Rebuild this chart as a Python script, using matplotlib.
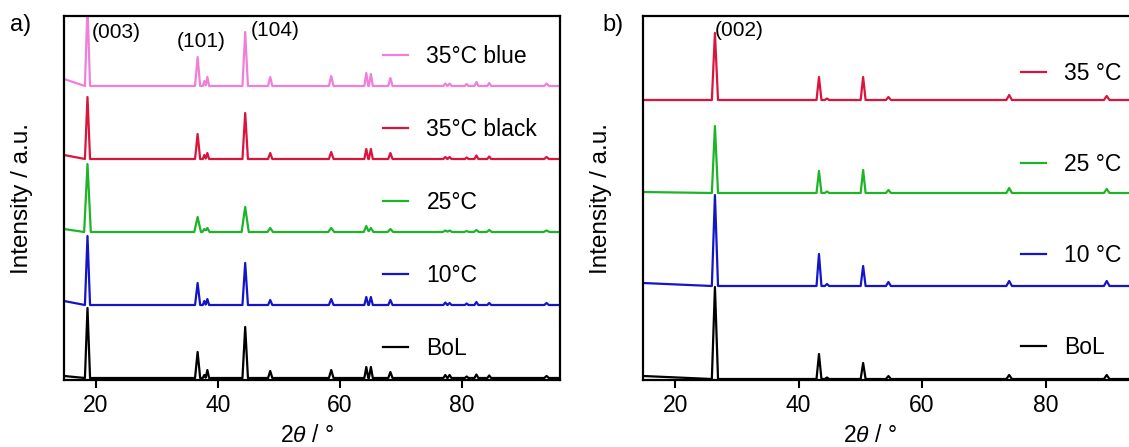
import numpy as np
import matplotlib
matplotlib.use("Agg")
import matplotlib.pyplot as plt

plt.rcParams['font.family'] = ['Liberation Sans', 'DejaVu Sans']
plt.rcParams['mathtext.fontset'] = 'custom'
plt.rcParams['mathtext.rm'] = 'Liberation Sans'
plt.rcParams['mathtext.it'] = 'Liberation Sans:italic'

# ---------------- Panel a (cathode) ----------------
peak_pos_a = [18.65, 36.7, 37.8, 38.3, 44.5, 48.6, 58.6, 64.35, 65.1, 68.3,
              77.3, 78.0, 80.8, 82.4, 84.5, 93.9]
peak_hw_a = [0.42, 0.42, 0.25, 0.28, 0.45, 0.35, 0.38, 0.32, 0.32, 0.35,
             0.32, 0.32, 0.3, 0.32, 0.32, 0.38]
series_a = ["BoL", "10°C", "25°C", "35°C black", "35°C blue"]
h_bol_a = [70, 26, 3, 8, 51, 7, 8, 11, 11, 6, 3, 3, 1.5, 3.5, 2.5, 2]
h_10_a = [69, 22, 4, 6, 42, 5, 6, 8, 8, 5, 2.5, 2, 1.5, 3, 2, 2]
h_25_a = [68, 15, 3, 4, 25, 4, 4, 6, 4, 3, 1.5, 1.5, 1, 2, 2, 1.5]
h_35k_a = [62, 25, 4, 6, 46, 6, 7, 10, 10, 6, 2, 2, 1.5, 3.5, 2.5, 2]
h_35b_a = [80, 29, 5, 9, 54, 9, 10, 13, 12, 8, 2.5, 2.5, 2, 4, 3, 2.5]
bg_a = [2, 4, 3, 4, 7]
heights_a = [h_bol_a, h_10_a, h_25_a, h_35k_a, h_35b_a]

# ---------------- Panel b (anode) ----------------
peak_pos_b = [26.45, 43.3, 44.6, 50.45, 54.55, 74.1, 89.9]
peak_hw_b = [0.5, 0.4, 0.35, 0.4, 0.4, 0.45, 0.45]
series_b = ["BoL", "10 °C", "25 °C", "35 °C"]
h_bol_b = [92, 25, 1.5, 16, 3, 4, 4]
h_10_b = [91, 32, 2, 20, 4, 5, 5]
h_25_b = [67, 22, 1.5, 23, 3, 5, 4]
h_35_b = [67, 23, 1.5, 23, 3, 5, 4]
bg_b = [3, 3, 1, 0]
heights_b = [h_bol_b, h_10_b, h_25_b, h_35_b]

X_MIN, X_MAX = 14.8, 96.1
colors_a = ['#000000', '#1414C8', '#1EB428', '#DC143C', '#F07FD9']
colors_b = ['#000000', '#1414C8', '#1EB428', '#DC143C']
broaden_a = [1.0, 1.0, 1.3, 1.0, 1.0]
offset_a = 73
offset_b = 93


def build_trace(pos, hw, hts, bg0, scale):
    pos = np.asarray(pos, float)
    hw = np.asarray(hw, float) * scale
    hts = np.asarray(hts, float)
    xs = np.unique(np.concatenate([[X_MIN, X_MAX], pos - hw, pos, pos + hw]))
    ys = np.zeros_like(xs)
    for p, w, h in zip(pos, hw, hts):
        ys += h * np.clip(1 - np.abs(xs - p) / w, 0, None)
    first_foot = pos[0] - hw[0]
    ys += bg0 * np.clip(1 - (xs - X_MIN) / (first_foot - X_MIN), 0, None)
    return xs, ys


W, H = 1129, 447
fig = plt.figure(figsize=(W / 100, H / 100), dpi=100)
ax_a = fig.add_axes([64 / W, (H - 380) / H, 496 / W, 364 / H])
ax_b = fig.add_axes([643 / W, (H - 380) / H, 502 / W, 364 / H])

FS = 16.5

for ax in (ax_a, ax_b):
    ax.set_xlim(X_MIN, X_MAX)
    ax.set_xticks([20, 40, 60, 80])
    ax.tick_params(axis='x', direction='out', length=6, width=1.5,
                   labelsize=16.5, pad=4)
    ax.set_yticks([])
    for s in ax.spines.values():
        s.set_linewidth(1.6)
    ax.set_xlabel(r"$\mathit{2\theta}$ / °", fontsize=FS)
    ax.set_ylabel("Intensity / a.u.", fontsize=17.5)
    ax.yaxis.set_label_coords(-31 / 496, 0.5)

ax_a.xaxis.set_label_coords(0.49, -0.122)
ax_b.xaxis.set_label_coords(0.452, -0.122)

handles_a = []
for i, (name, hts) in enumerate(zip(series_a, heights_a)):
    xs, ys = build_trace(peak_pos_a, peak_hw_a, hts, bg_a[i], broaden_a[i])
    ln, = ax_a.plot(xs, ys + i * offset_a, color=colors_a[i], lw=1.6,
                    label=name)
    handles_a.append(ln)
ax_a.set_ylim(-2, 362)

handles_b = []
for i, (name, hts) in enumerate(zip(series_b, heights_b)):
    xs, ys = build_trace(peak_pos_b, peak_hw_b, hts, bg_b[i], 1.0)
    ln, = ax_b.plot(xs, ys + i * offset_b, color=colors_b[i], lw=1.6,
                    label=name)
    handles_b.append(ln)
ax_b.set_ylim(-1, 363)

leg_a = ax_a.legend(handles=handles_a[::-1], loc='upper left',
                    bbox_to_anchor=(0.643, 0.921), borderaxespad=0,
                    borderpad=0, frameon=False, fontsize=FS,
                    handlelength=1.1, handletextpad=0.8, labelspacing=2.18)
leg_b = ax_b.legend(handles=handles_b[::-1], loc='upper left',
                    bbox_to_anchor=(0.752, 0.874), borderaxespad=0,
                    borderpad=0, frameon=False, fontsize=FS,
                    handlelength=1.1, handletextpad=0.8, labelspacing=2.98)

ax_a.text(19.3, 346, "(003)", fontsize=15, ha='left', va='center')
ax_a.text(37.3, 337, "(101)", fontsize=15, ha='center', va='center')
ax_a.text(45.4, 348, "(104)", fontsize=15, ha='left', va='center')
ax_b.text(30.4, 349, "(002)", fontsize=15, ha='center', va='center')

fig.text(10 / W, 1 - 25 / H, "a)", fontsize=17, ha='left', va='center')
fig.text(602 / W, 1 - 25 / H, "b)", fontsize=17, ha='left', va='center')

fig.savefig("out.png", dpi=100)
